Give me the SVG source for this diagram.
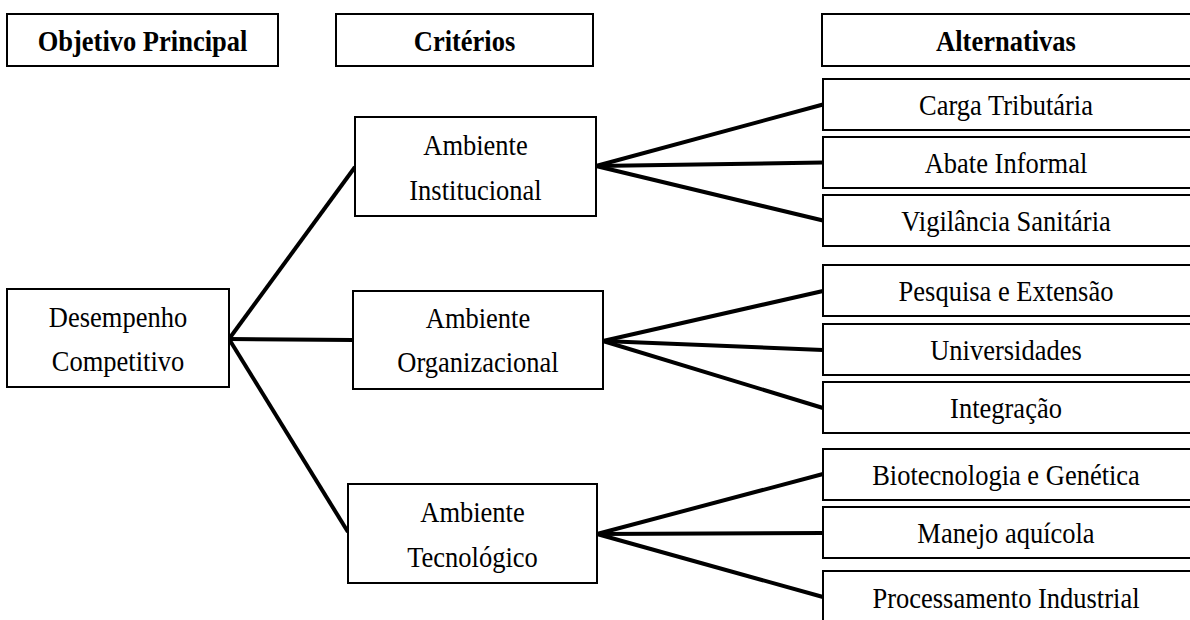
<svg xmlns="http://www.w3.org/2000/svg" width="1190" height="620" viewBox="0 0 1190 620">
<style>
.box{fill:#fff;stroke:#000;stroke-width:2}
.t{font-family:"Liberation Serif","Times New Roman",serif;font-size:26.5px;fill:#000;text-anchor:middle}
.h{font-weight:bold}
.c line{stroke:#000;stroke-width:4;stroke-linecap:butt}
</style>
<rect width="1190" height="620" fill="#fff"/>
<g class="c" id="connectors">
<line x1="229" y1="339" x2="355" y2="167"/>
<line x1="229" y1="339" x2="353" y2="340"/>
<line x1="229" y1="339" x2="348" y2="532"/>
<line x1="596" y1="166" x2="823" y2="104.5"/>
<line x1="596" y1="166" x2="823" y2="162.5"/>
<line x1="596" y1="166" x2="823" y2="220.5"/>
<line x1="603" y1="341" x2="823" y2="291"/>
<line x1="603" y1="341" x2="823" y2="350"/>
<line x1="603" y1="341" x2="823" y2="408"/>
<line x1="597" y1="534" x2="823" y2="474"/>
<line x1="597" y1="534" x2="823" y2="533"/>
<line x1="597" y1="534" x2="823" y2="597"/>
</g>
<g id="h1"><rect class="box" x="7" y="14" width="271" height="52"/><text class="t h" transform="translate(142.5,51) scale(1,1.12)">Objetivo Principal</text></g>
<g id="h2"><rect class="box" x="336" y="14" width="257" height="52"/><text class="t h" transform="translate(464.5,51) scale(1,1.12)">Critérios</text></g>
<g id="h3"><rect class="box" x="822" y="14" width="380" height="52"/><text class="t h" transform="translate(1006,51) scale(1,1.12)">Alternativas</text></g>
<g id="desempenho"><rect class="box" x="7" y="289" width="222" height="98"/><text class="t" transform="translate(118,327) scale(1,1.12)">Desempenho</text><text class="t" transform="translate(118,371) scale(1,1.12)">Competitivo</text></g>
<g id="institucional"><rect class="box" x="355" y="117" width="241" height="99"/><text class="t" transform="translate(475.5,155) scale(1,1.12)">Ambiente</text><text class="t" transform="translate(475.5,200) scale(1,1.12)">Institucional</text></g>
<g id="organizacional"><rect class="box" x="353" y="291" width="250" height="98"/><text class="t" transform="translate(478,328) scale(1,1.12)">Ambiente</text><text class="t" transform="translate(478,372) scale(1,1.12)">Organizacional</text></g>
<g id="tecnologico"><rect class="box" x="348" y="484" width="249" height="99"/><text class="t" transform="translate(472.5,522) scale(1,1.12)">Ambiente</text><text class="t" transform="translate(472.5,567) scale(1,1.12)">Tecnológico</text></g>
<g id="carga"><rect class="box" x="823" y="79" width="380" height="51"/><text class="t" transform="translate(1006,115) scale(1,1.12)">Carga Tributária</text></g>
<g id="abate"><rect class="box" x="823" y="137" width="380" height="51"/><text class="t" transform="translate(1006,173) scale(1,1.12)">Abate Informal</text></g>
<g id="vigilancia"><rect class="box" x="823" y="195" width="380" height="51"/><text class="t" transform="translate(1006,231) scale(1,1.12)">Vigilância Sanitária</text></g>
<g id="pesquisa"><rect class="box" x="823" y="265" width="380" height="51"/><text class="t" transform="translate(1006,301) scale(1,1.12)">Pesquisa e Extensão</text></g>
<g id="universidades"><rect class="box" x="823" y="324" width="380" height="51"/><text class="t" transform="translate(1006,360) scale(1,1.12)">Universidades</text></g>
<g id="integracao"><rect class="box" x="823" y="382" width="380" height="51"/><text class="t" transform="translate(1006,418) scale(1,1.12)">Integração</text></g>
<g id="biotec"><rect class="box" x="823" y="449" width="380" height="51"/><text class="t" transform="translate(1006,485) scale(1,1.12)">Biotecnologia e Genética</text></g>
<g id="manejo"><rect class="box" x="823" y="507" width="380" height="51"/><text class="t" transform="translate(1006,543) scale(1,1.12)">Manejo aquícola</text></g>
<g id="processamento"><rect class="box" x="823" y="571" width="380" height="60"/><text class="t" transform="translate(1006,608) scale(1,1.12)">Processamento Industrial</text></g>
</svg>
